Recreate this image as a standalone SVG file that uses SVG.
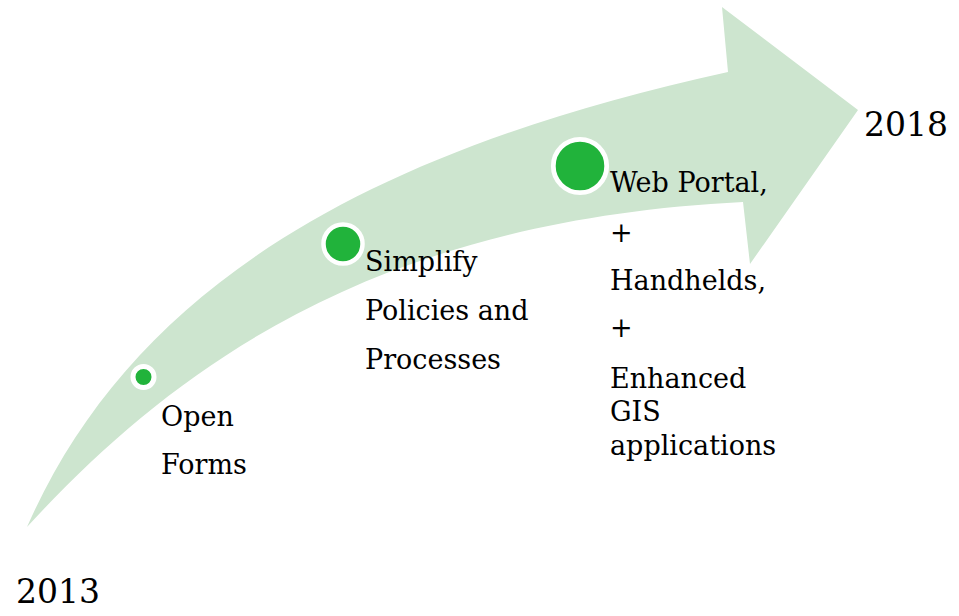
<svg xmlns="http://www.w3.org/2000/svg" width="959" height="616" viewBox="0 0 959 616">
<style>
.lbl{font-family:"DejaVu Serif","Liberation Serif",serif;font-size:27px;fill:#000}
.yr{font-family:"DejaVu Serif","Liberation Serif",serif;font-size:33px;fill:#000}
.dot{fill:#21b33b;stroke:#fff}
</style>
<rect width="959" height="616" fill="#fff"/>
<g id="connectors">
<path id="arrow" d="M27,527 C127,300 344,156 728,72 L722,7 L858,110 L750,264 L743,202 C385,220 183,357 27,527 Z" fill="#cde5cf"/>
</g>
<g id="node-2013"><text class="yr" x="16" y="603">2013</text></g>
<g id="node-2018"><text class="yr" x="864" y="136">2018</text></g>
<g id="node-open">
<circle class="dot" cx="143.5" cy="377" r="10.5" stroke-width="5"/>
<text class="lbl" x="161" y="426">Open</text>
<text class="lbl" x="161" y="474">Forms</text>
</g>
<g id="node-simplify">
<circle class="dot" cx="343" cy="244" r="19.5" stroke-width="4.5"/>
<text class="lbl" x="365" y="271">Simplify</text>
<text class="lbl" x="365" y="320">Policies and</text>
<text class="lbl" x="365" y="369">Processes</text>
</g>
<g id="node-web">
<circle class="dot" cx="580" cy="166" r="26.7" stroke-width="4.8"/>
<text class="lbl" x="610" y="192">Web Portal,</text>
<text class="lbl" x="610" y="242">+</text>
<text class="lbl" x="610" y="290">Handhelds,</text>
<text class="lbl" x="610" y="337">+</text>
<text class="lbl" x="610" y="388">Enhanced</text>
<text class="lbl" x="610" y="421">GIS</text>
<text class="lbl" x="610" y="455">applications</text>
</g>
</svg>
